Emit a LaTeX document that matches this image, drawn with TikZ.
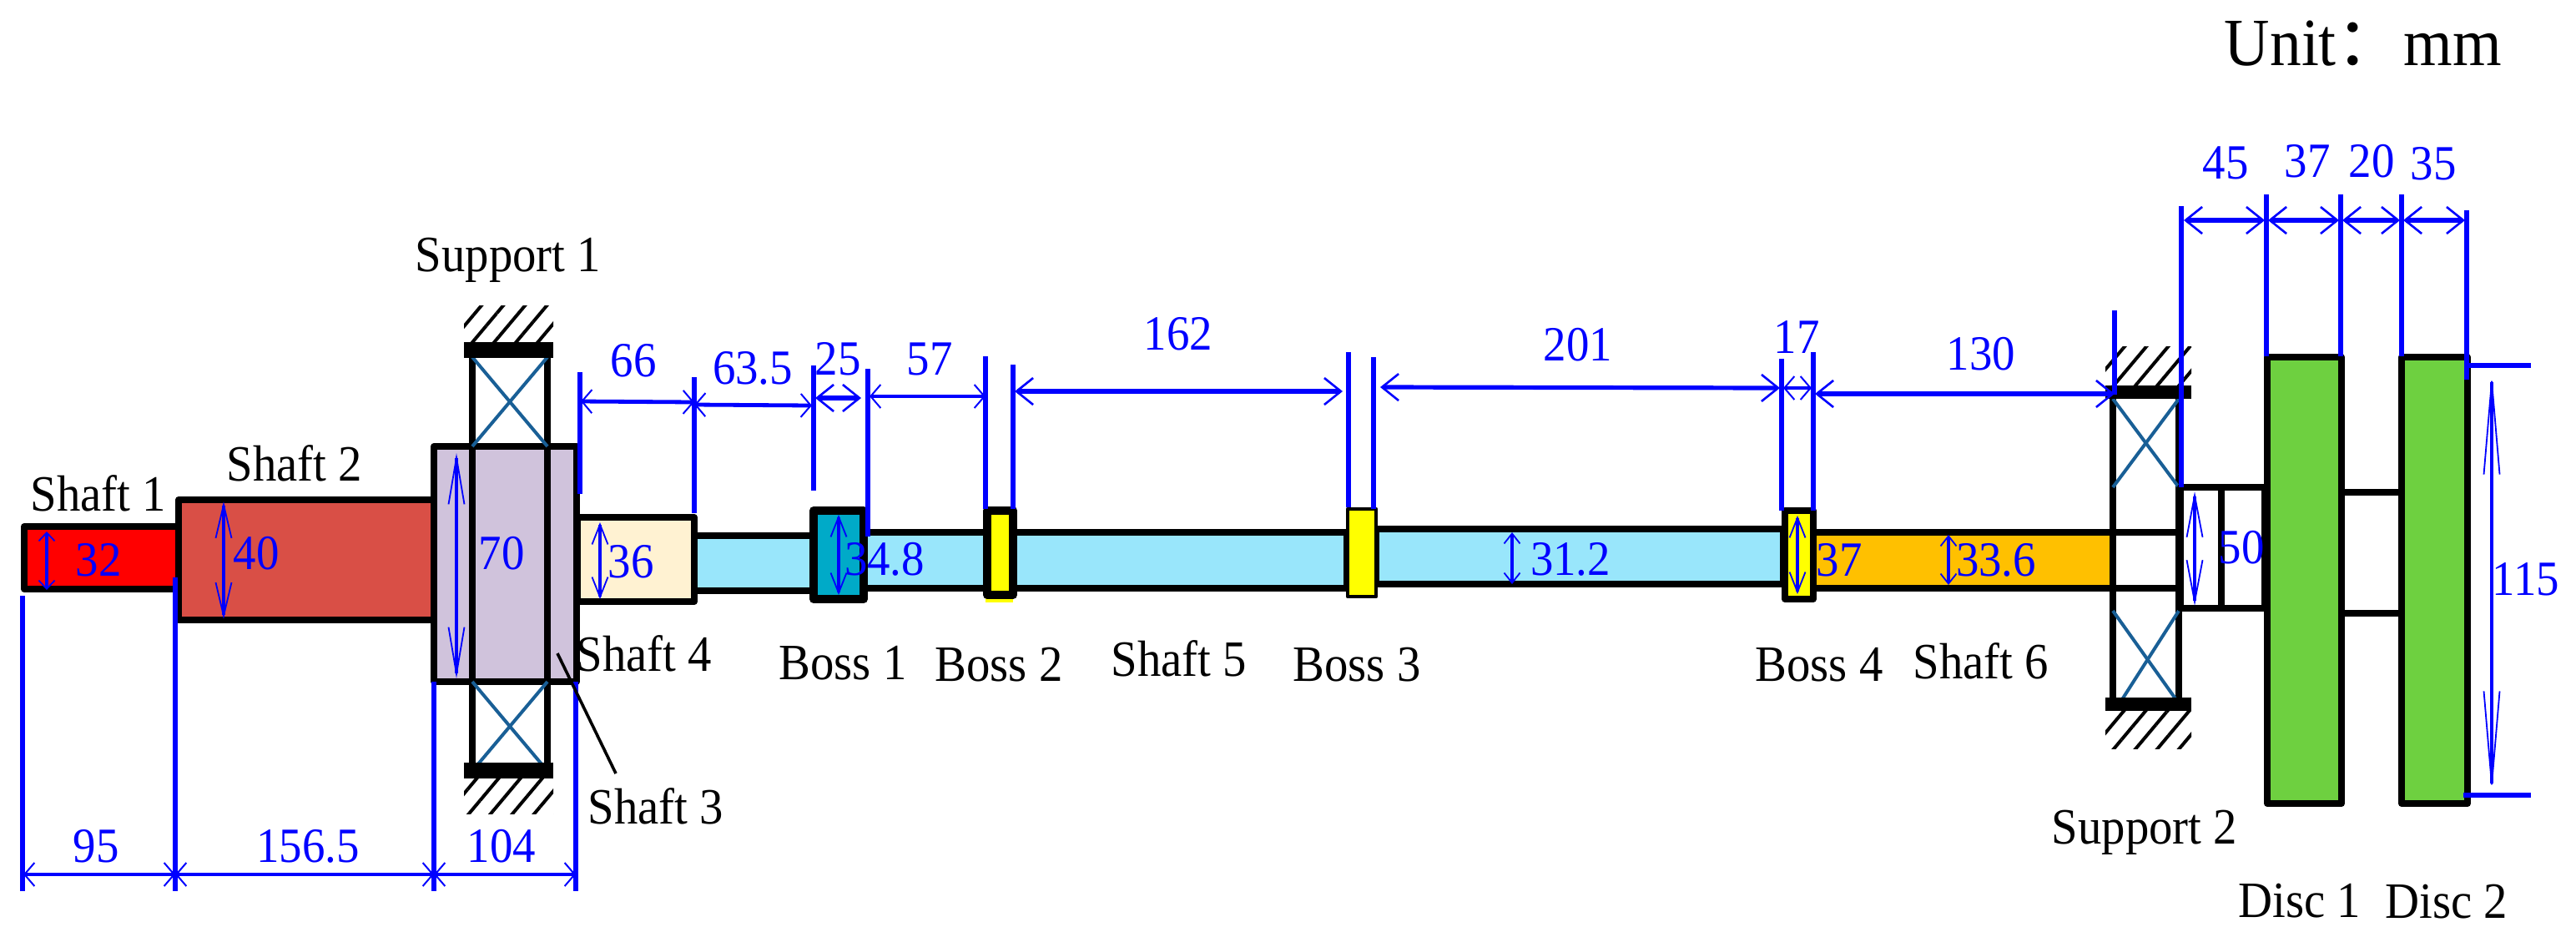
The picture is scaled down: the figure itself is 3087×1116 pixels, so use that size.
\documentclass[tikz,border=0pt]{standalone}
\usepackage{fontspec}
\setmainfont[FakeStretch=.93]{Liberation Serif}
\newfontfamily\cjk{Noto Sans CJK SC}
\usepackage{tikz}
\usetikzlibrary {arrows.meta,
                 patterns.meta}
\definecolor{shaftone}{RGB}{255,0,0}
\definecolor{shafttwo}{RGB}{217,79,70}
\definecolor{shaftthree}{RGB}{208,195,220}
\definecolor{shaftfour}{RGB}{255,242,210}
\definecolor{shaftfive}{RGB}{153,230,251}
\definecolor{shaftsix}{RGB}{255,192,0}
\definecolor{bossone}{RGB}{0,170,200}
\definecolor{bossyellow}{RGB}{255,255,0}
\definecolor{discgreen}{RGB}{110,208,64}
\definecolor{crossteal}{RGB}{25,95,150}
\tikzset{
        part/.style={draw=black, line width=4pt, line join=round},
        thinpart/.style={part, line width=2.2pt},
        brgbar/.style={fill=black},
        cross/.style={draw=crossteal, line width=2pt},
        hatch/.style={pattern={Lines[angle=50, distance=10pt, line width=2pt]}},
        leader/.style={draw=black, line width=1.8pt},
        extline/.style={draw=blue, line width=2.8pt},
        dimsmall/.style={draw=blue, line width=2.4pt, {Straight Barb[length=6pt,width=14pt,line width=1pt]}-{Straight Barb[length=6pt,width=14pt,line width=1pt]}},
        dimbig/.style={draw=blue, line width=2.6pt, {Straight Barb[length=10pt,width=16pt,line width=1.3pt]}-{Straight Barb[length=10pt,width=16pt,line width=1.3pt]}},
        inarrow/.style={draw=blue, line width=1.6pt, {Straight Barb[length=#1,width=9.5pt,line width=.9pt]}-{Straight Barb[length=#1,width=9.5pt,line width=.9pt]}},
        blackname/.style={inner sep=0pt, font=\fontsize{30.5}{33}\selectfont},
        size/.style={inner sep=0pt, text=blue, font=\fontsize{29.5}{32}\selectfont},
 }
\begin{document}
\begin{tikzpicture}[x=.5pt, y=-.5pt]
    \useasboundingbox (0,0) rectangle (3087,1116);

    \draw[part, fill=shaftfive] (832,642) rectangle (975,708);
    \draw[part, fill=shaftfive] (1035,638) rectangle (1614,705);
    \draw[part, fill=shaftfive] (1649,634) rectangle (2137,700);
    \draw[part, fill=shaftsix] (2173,638) rectangle (2532,705);
    \draw[part] (2532,638) -- (2610,638);
    \draw[part] (2532,705) -- (2610,705);

    \draw[part, fill=shaftone] (29,631) rectangle (214,706);
    \draw[part, fill=shafttwo] (214,599) rectangle (520,743);
    \draw[part, fill=shaftfour] (692,620) rectangle (832,721);
    \draw[part, fill=shaftthree] (520,535) rectangle (691,817);

    \draw[part] (566,418) rectangle (656,924);
    \draw[cross] (566,428) -- (656,535);
    \draw[cross] (656,428) -- (566,535);
    \draw[cross] (566,924) -- (656,817);
    \draw[cross] (656,924) -- (566,817);
    \fill[brgbar] (556,410) rectangle (663,429);
    \fill[brgbar] (556,914) rectangle (663,933);
    \fill[hatch] (556,366) rectangle (663,410);
    \fill[hatch] (556,933) rectangle (663,975);

    \fill[bossyellow] (1181,705) rectangle (1214,722);
    \draw[part, fill=bossone, line width=5pt] (975,612) rectangle (1035,718);
    \draw[part, fill=bossyellow, line width=5pt] (1183,612) rectangle (1214,713);
    \draw[thinpart, fill=bossyellow] (1615,610) rectangle (1649,715);
    \draw[part, fill=bossyellow] (2139,612) rectangle (2173,718);

    \draw[part] (2532,470) rectangle (2611,843);
    \draw[cross] (2532,478) -- (2611,584);
    \draw[cross] (2611,478) -- (2532,584);
    \draw[cross] (2532,732) -- (2611,843);
    \draw[cross] (2611,732) -- (2540,843);
    \fill[brgbar] (2523,462) rectangle (2626,478);
    \fill[brgbar] (2523,836) rectangle (2626,852);
    \fill[hatch] (2523,415) rectangle (2626,462);
    \fill[hatch] (2523,852) rectangle (2626,897);

    \draw[part] (2613,584) rectangle (2662,729);
    \draw[part] (2662,584) rectangle (2714,729);
    \draw[part] (2806,590) -- (2878,590);
    \draw[part] (2806,735) -- (2878,735);
    \draw[part, fill=discgreen] (2717,428) rectangle (2806,963);
    \draw[part, fill=discgreen] (2878,428) rectangle (2957,963);

    \coordinate (ext0a) at (27,714);
    \coordinate (ext0b) at (27,1068);
    \coordinate (ext1a) at (210,692);
    \coordinate (ext1b) at (210,1068);
    \coordinate (ext2a) at (520,817);
    \coordinate (ext2b) at (520,1068);
    \coordinate (ext3a) at (690,817);
    \coordinate (ext3b) at (690,1068);
    \draw[extline] (ext0a) -- (ext0b);
    \draw[extline] (ext1a) -- (ext1b);
    \draw[extline] (ext2a) -- (ext2b);
    \draw[extline] (ext3a) -- (ext3b);

    \coordinate (top0a) at (695,446);
    \coordinate (top0b) at (695,592);
    \coordinate (top1a) at (832,452);
    \coordinate (top1b) at (832,615);
    \coordinate (top2a) at (975,438);
    \coordinate (top2b) at (975,588);
    \coordinate (top3a) at (1040,442);
    \coordinate (top3b) at (1040,643);
    \coordinate (top4a) at (1181,427);
    \coordinate (top4b) at (1181,610);
    \coordinate (top5a) at (1214,437);
    \coordinate (top5b) at (1214,610);
    \coordinate (top6a) at (1616,422);
    \coordinate (top6b) at (1616,608);
    \coordinate (top7a) at (1646,428);
    \coordinate (top7b) at (1646,610);
    \coordinate (top8a) at (2135,430);
    \coordinate (top8b) at (2135,612);
    \coordinate (top9a) at (2173,422);
    \coordinate (top9b) at (2173,612);
    \coordinate (top10a) at (2534,372);
    \coordinate (top10b) at (2534,473);
    \coordinate (top11a) at (2614,247);
    \coordinate (top11b) at (2614,584);
    \coordinate (top12a) at (2716,233);
    \coordinate (top12b) at (2716,427);
    \coordinate (top13a) at (2805,233);
    \coordinate (top13b) at (2805,427);
    \coordinate (top14a) at (2878,233);
    \coordinate (top14b) at (2878,427);
    \coordinate (top15a) at (2956,252);
    \coordinate (top15b) at (2956,455);
    \coordinate (edge0a) at (2957,438);
    \coordinate (edge0b) at (3033,438);
    \coordinate (edge1a) at (2952,953);
    \coordinate (edge1b) at (3033,953);
    \draw[extline] (top0a) -- (top0b);
    \draw[extline] (top1a) -- (top1b);
    \draw[extline] (top2a) -- (top2b);
    \draw[extline] (top3a) -- (top3b);
    \draw[extline] (top4a) -- (top4b);
    \draw[extline] (top5a) -- (top5b);
    \draw[extline] (top6a) -- (top6b);
    \draw[extline] (top7a) -- (top7b);
    \draw[extline] (top8a) -- (top8b);
    \draw[extline] (top9a) -- (top9b);
    \draw[extline] (top10a) -- (top10b);
    \draw[extline] (top11a) -- (top11b);
    \draw[extline] (top12a) -- (top12b);
    \draw[extline] (top13a) -- (top13b);
    \draw[extline] (top14a) -- (top14b);
    \draw[extline] (top15a) -- (top15b);
    \draw[extline] (edge0a) -- (edge0b);
    \draw[extline] (edge1a) -- (edge1b);

    \coordinate (d95a) at (28,1048);
    \coordinate (d95b) at (210,1048);
    \coordinate (d156a) at (210,1048);
    \coordinate (d156b) at (520,1048);
    \coordinate (d104a) at (520,1048);
    \coordinate (d104b) at (690,1048);
    \coordinate (d66a) at (696,481);
    \coordinate (d66b) at (832,482);
    \coordinate (d63a) at (832,485);
    \coordinate (d63b) at (973,486);
    \coordinate (d25a) at (977,477);
    \coordinate (d25b) at (1032,477);
    \coordinate (d57a) at (1042,475);
    \coordinate (d57b) at (1181,475);
    \coordinate (d162a) at (1216,469);
    \coordinate (d162b) at (1609,469);
    \coordinate (d201a) at (1654,464);
    \coordinate (d201b) at (2133,465);
    \coordinate (d17a) at (2137,465);
    \coordinate (d17b) at (2171,465);
    \coordinate (d130a) at (2175,472);
    \coordinate (d130b) at (2534,472);
    \coordinate (d45a) at (2617,264);
    \coordinate (d45b) at (2714,264);
    \coordinate (d37a) at (2718,264);
    \coordinate (d37b) at (2803,264);
    \coordinate (d20a) at (2807,264);
    \coordinate (d20b) at (2876,264);
    \coordinate (d35a) at (2880,264);
    \coordinate (d35b) at (2954,264);
    \draw[dimsmall] (d95a) -- (d95b);
    \draw[dimsmall] (d156a) -- (d156b);
    \draw[dimsmall] (d104a) -- (d104b);
    \draw[dimsmall] (d66a) -- (d66b);
    \draw[dimsmall] (d63a) -- (d63b);
    \draw[dimbig] (d25a) -- (d25b);
    \draw[dimsmall] (d57a) -- (d57b);
    \draw[dimbig] (d162a) -- (d162b);
    \draw[dimbig] (d201a) -- (d201b);
    \draw[dimsmall] (d17a) -- (d17b);
    \draw[dimbig] (d130a) -- (d130b);
    \draw[dimbig] (d45a) -- (d45b);
    \draw[dimbig] (d37a) -- (d37b);
    \draw[dimbig] (d20a) -- (d20b);
    \draw[dimbig] (d35a) -- (d35b);

    \coordinate (i32a) at (56,637);
    \coordinate (i32b) at (56,707);
    \coordinate (i40a) at (268,601);
    \coordinate (i40b) at (268,742);
    \coordinate (i70a) at (547,543);
    \coordinate (i70b) at (547,813);
    \coordinate (i36a) at (719,626);
    \coordinate (i36b) at (719,718);
    \coordinate (i348a) at (1005,617);
    \coordinate (i348b) at (1005,713);
    \coordinate (i312a) at (1812,638);
    \coordinate (i312b) at (1812,700);
    \coordinate (i37a) at (2154,618);
    \coordinate (i37b) at (2154,712);
    \coordinate (i336a) at (2335,641);
    \coordinate (i336b) at (2335,701);
    \coordinate (i50a) at (2630,589);
    \coordinate (i50b) at (2630,726);
    \coordinate (i115a) at (2986,446);
    \coordinate (i115b) at (2986,951);
    \draw[inarrow=5pt] (i32a) -- (i32b);
    \draw[inarrow=20pt] (i40a) -- (i40b);
    \draw[inarrow=28pt] (i70a) -- (i70b);
    \draw[inarrow=12pt] (i36a) -- (i36b);
    \draw[inarrow=12pt] (i348a) -- (i348b);
    \draw[inarrow=6pt] (i312a) -- (i312b);
    \draw[inarrow=12pt] (i37a) -- (i37b);
    \draw[inarrow=6pt] (i336a) -- (i336b);
    \draw[inarrow=25pt] (i50a) -- (i50b);
    \draw[inarrow=56pt] (i115a) -- (i115b);

    \node[size] (n95) at (115,1014) {95};
    \node[size] (n156) at (369,1014) {156.5};
    \node[size] (n104) at (601,1014) {104};
    \node[size] (n66) at (759,432) {66};
    \node[size] (n63) at (902,441) {63.5};
    \node[size] (n25) at (1004,430) {25};
    \node[size] (n57) at (1114,430) {57};
    \node[size] (n162) at (1412,400) {162};
    \node[size] (n201) at (1891,413) {201};
    \node[size] (n17) at (2153,404) {17};
    \node[size] (n130) at (2374,424) {130};
    \node[size] (n45) at (2667,195) {45};
    \node[size] (n37) at (2765,193) {37};
    \node[size] (n20) at (2842,193) {20};
    \node[size] (n35) at (2916,196) {35};
    \node[size] (v32) at (118,671) {32};
    \node[size] (v40) at (307,663) {40};
    \node[size] (v70) at (601,663) {70};
    \node[size] (v36) at (756,673) {36};
    \node[size] (v348) at (1060,670) {34.8};
    \node[size] (v312) at (1882,670) {31.2};
    \node[size] (v37) at (2204,671) {37};
    \node[size] (v336) at (2392,671) {33.6};
    \node[size] (v50) at (2686,656) {50};
    \node[size] (v115) at (3027,694) {115};

    \node[blackname] (support1) at (609,312) {Support 1};
    \node[blackname] (shaft1) at (118,591) {Shaft 1};
    \node[blackname] (shaft2) at (353,555) {Shaft 2};
    \node[blackname] (shaft3) at (786,966) {Shaft 3};
    \node[blackname] (shaft4) at (772,783) {Shaft 4};
    \node[blackname] (shaft5) at (1413,789) {Shaft 5};
    \node[blackname] (shaft6) at (2374,792) {Shaft 6};
    \node[blackname] (boss1) at (1010,795) {Boss 1};
    \node[blackname] (boss2) at (1197,797) {Boss 2};
    \node[blackname] (boss3) at (1626,797) {Boss 3};
    \node[blackname] (boss4) at (2180,797) {Boss 4};
    \node[blackname] (support2) at (2570,998) {Support 2};
    \node[blackname] (disc1) at (2756,1080) {Disc 1};
    \node[blackname] (disc2) at (2932,1081) {Disc 2};
    \node[inner sep=0pt, anchor=base, font=\fontsize{40.5}{44}\selectfont] (unit) at (2832,78) {Unit{\cjk ：}mm};

    \coordinate (lead3) at (668,783);
    \coordinate (lead3b) at (738,927);
    \draw[leader] (lead3) -- (lead3b);
\end{tikzpicture}
\end{document}
